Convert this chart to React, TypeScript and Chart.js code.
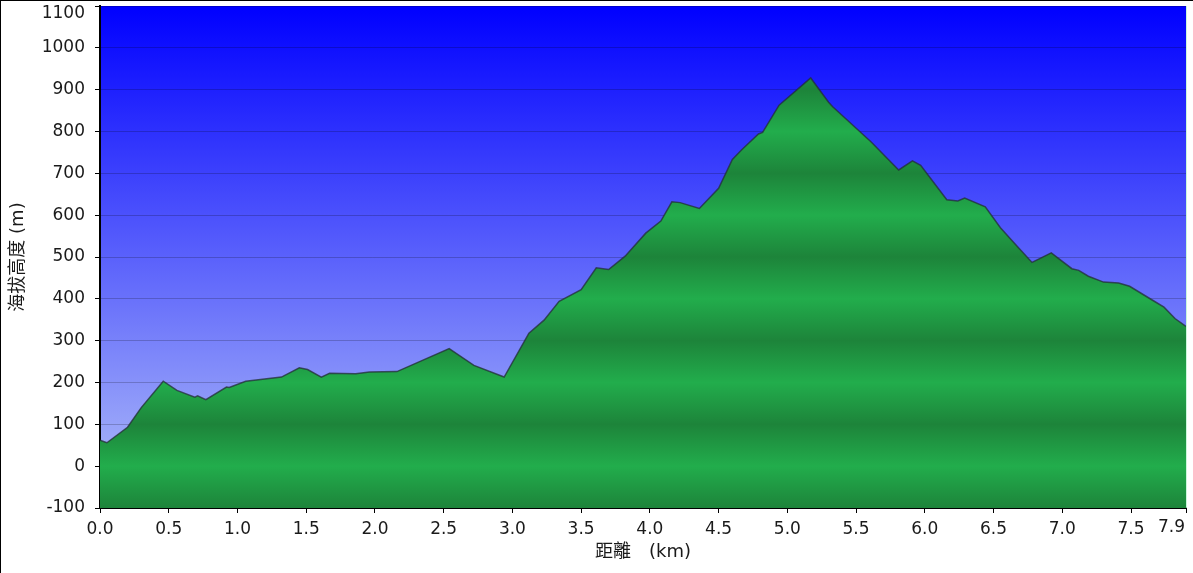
import { useEffect, useRef } from 'react';
import { Chart, registerables } from 'chart.js';

Chart.register(...registerables);

// 距離 (km)
const distanceKm = [
  0.0, 0.05, 0.2, 0.3, 0.46, 0.56, 0.69, 0.71, 0.77, 0.92, 0.94, 1.06, 1.32,
  1.45, 1.51, 1.61, 1.67, 1.86, 1.96, 2.16, 2.54, 2.72, 2.94, 3.12, 3.23, 3.34,
  3.5, 3.61, 3.7, 3.82, 3.97, 4.08, 4.16, 4.22, 4.36, 4.5, 4.6, 4.67, 4.79,
  4.82, 4.94, 5.17, 5.3, 5.33, 5.61, 5.81, 5.91, 5.97, 6.16, 6.24, 6.29, 6.44,
  6.55, 6.67, 6.78, 6.92, 7.07, 7.12, 7.19, 7.3, 7.41, 7.49, 7.66, 7.74, 7.82,
  7.9,
];

// 海拔高度 (m)
const elevationM = [
  62, 56, 93, 140, 203, 181, 165, 168, 159, 189, 188, 203, 213,
  235, 231, 213, 222, 221, 225, 226, 281, 241, 213, 318, 349, 394,
  422, 474, 470, 502, 557, 586, 632, 630, 616, 664, 733, 757, 794,
  798, 863, 928, 870, 859, 775, 708, 730, 719, 637, 634, 641, 620,
  570, 526, 487, 510, 472, 468, 454, 440, 438, 430, 396, 380, 353,
  334,
];

const xTicks = [0, 0.5, 1, 1.5, 2, 2.5, 3, 3.5, 4, 4.5, 5, 5.5, 6, 6.5, 7, 7.5, 7.9];
const yTicks = [-100, 0, 100, 200, 300, 400, 500, 600, 700, 800, 900, 1000, 1100];

const FONT = "'DejaVu Sans', 'Noto Sans CJK TC', sans-serif";
const TEXT = '#1a1a1a';
const TICK_SIZE = 17;
const GREEN_LIGHT = '#22ad4c';
const GREEN_DARK = '#1d843a';

const xLabel = (v: number) => v.toFixed(1);
const yLabel = (v: number) => String(v);

// 藍色天空背景 + 邊緣刻度文字（收在圖內）
const skyPlugin = {
  id: 'sky',
  beforeDraw(chart: any) {
    const { ctx, chartArea } = chart;
    if (!chartArea) return;
    const g = ctx.createLinearGradient(0, chartArea.top, 0, chartArea.bottom);
    g.addColorStop(0, '#0000ff');
    g.addColorStop(1, '#b4c2f8');
    ctx.save();
    ctx.fillStyle = g;
    ctx.fillRect(chartArea.left, chartArea.top, chartArea.right - chartArea.left, chartArea.bottom - chartArea.top);
    ctx.restore();
  },
  afterDraw(chart: any) {
    const { ctx, chartArea, scales } = chart;
    if (!chartArea) return;
    ctx.save();
    ctx.strokeStyle = 'rgba(190,245,210,0.8)';
    ctx.lineWidth = 1;
    ctx.beginPath();
    ctx.moveTo(chartArea.right + 0.5, chartArea.top);
    ctx.lineTo(chartArea.right + 0.5, chartArea.bottom);
    ctx.stroke();

    ctx.fillStyle = TEXT;
    ctx.font = `${TICK_SIZE}px ${FONT}`;
    // top y label pushed down so it stays on the canvas
    const topVal = yTicks[yTicks.length - 1];
    ctx.textAlign = 'right';
    ctx.textBaseline = 'middle';
    ctx.fillText(yLabel(topVal), chartArea.left - 15, scales.y.getPixelForValue(topVal) + 8);
    // last x label right-aligned to its tick
    const lastVal = xTicks[xTicks.length - 1];
    ctx.textAlign = 'right';
    ctx.textBaseline = 'top';
    ctx.fillText(xLabel(lastVal), scales.x.getPixelForValue(lastVal) - 1, chartArea.bottom + 11);
    ctx.restore();
  },
};

// 綠色地形（每100m明暗交替）
function terrainFill(context: any) {
  const chart = context.chart;
  const y = chart.scales?.y;
  if (!chart.chartArea || !y) return GREEN_LIGHT;
  const top = y.getPixelForValue(yTicks[yTicks.length - 1]);
  const bottom = y.getPixelForValue(yTicks[0]);
  const g = chart.ctx.createLinearGradient(0, top, 0, bottom);
  yTicks.forEach((v) => {
    const t = (y.getPixelForValue(v) - top) / (bottom - top);
    g.addColorStop(Math.min(1, Math.max(0, t)), Math.abs(v / 100) % 2 === 1 ? GREEN_DARK : GREEN_LIGHT);
  });
  return g;
}

export default function App() {
  const canvasRef = useRef<HTMLCanvasElement>(null);
  const chartRef = useRef<Chart | null>(null);

  useEffect(() => {
    document.body.style.margin = '0';
    if (!canvasRef.current) return;
    if (chartRef.current) chartRef.current.destroy();

    const ctx = canvasRef.current.getContext('2d');
    if (!ctx) return;

    chartRef.current = new Chart(ctx, {
      type: 'line',
      data: {
        datasets: [
          {
            data: distanceKm.map((d, i) => ({ x: d, y: elevationM[i] })),
            borderColor: 'rgba(35,45,55,0.75)',
            borderWidth: 1.5,
            backgroundColor: terrainFill,
            fill: 'start',
            pointRadius: 0,
            tension: 0,
          },
        ],
      },
      options: {
        animation: false,
        responsive: true,
        maintainAspectRatio: false,
        events: [],
        layout: { padding: { top: 5, right: 7, left: 0, bottom: 0 } },
        plugins: {
          legend: { display: false },
          tooltip: { enabled: false },
        },
        scales: {
          x: {
            type: 'linear',
            min: 0,
            max: 7.9,
            z: 1,
            afterBuildTicks: (s: any) => {
              s.ticks = xTicks.map((v) => ({ value: v }));
            },
            afterFit: (s: any) => {
              s.height = 65;
              s.paddingLeft = 0;
              s.paddingRight = 0;
            },
            grid: { drawOnChartArea: false, drawTicks: true, tickLength: 5, tickColor: '#000' },
            border: { color: '#000', width: 2 },
            ticks: {
              color: TEXT,
              font: { family: FONT, size: TICK_SIZE },
              padding: 6,
              maxRotation: 0,
              autoSkip: false,
              callback: (v: any) => (v === xTicks[xTicks.length - 1] ? '' : xLabel(Number(v))),
            },
            title: {
              display: true,
              text: '距離　(km)',
              color: TEXT,
              font: { family: FONT, size: 18 },
              padding: { top: 0, bottom: 10 },
            },
          },
          y: {
            type: 'linear',
            min: -100,
            max: 1100,
            z: 1,
            afterBuildTicks: (s: any) => {
              s.ticks = yTicks.map((v) => ({ value: v }));
            },
            afterFit: (s: any) => {
              s.width = 99;
              s.paddingTop = 0;
              s.paddingBottom = 0;
            },
            grid: { color: 'rgba(0,0,0,0.2)', lineWidth: 1, tickColor: '#000', tickLength: 5 },
            border: { color: '#000', width: 2 },
            ticks: {
              color: TEXT,
              font: { family: FONT, size: TICK_SIZE },
              padding: 10,
              callback: (v: any) => (v === yTicks[yTicks.length - 1] ? '' : yLabel(Number(v))),
            },
            title: {
              display: true,
              text: '海拔高度 (m)',
              color: TEXT,
              font: { family: FONT, size: 18 },
              padding: { top: 7, bottom: 0 },
            },
          },
        },
      },
      plugins: [skyPlugin],
    });

    return () => {
      if (chartRef.current) {
        chartRef.current.destroy();
        chartRef.current = null;
      }
    };
  }, []);

  return (
    <div
      style={{
        width: 1193,
        height: 573,
        boxSizing: 'border-box',
        borderTop: '1px solid #000',
        borderLeft: '1px solid #000',
        background: '#fff',
      }}
    >
      <div style={{ position: 'relative', width: 1192, height: 572 }}>
        <canvas ref={canvasRef} />
      </div>
    </div>
  );
}
